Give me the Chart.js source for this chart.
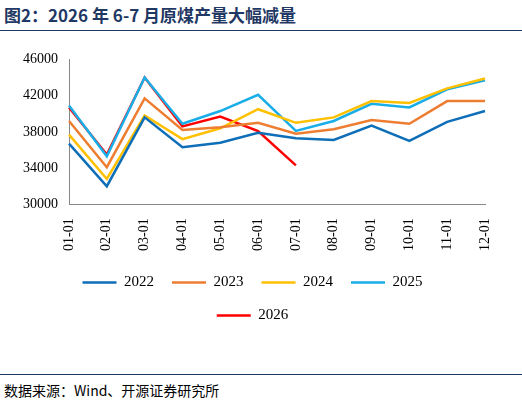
<!DOCTYPE html>
<html lang="zh">
<head>
<meta charset="UTF-8">
<title>原煤产量</title>
<style>
    body { margin: 0; width: 522px; height: 408px; background: #fff; font-family: "Noto Sans CJK SC", sans-serif; }
    .title { position: absolute; left: 4px; top: 2px; font-size: 17px; font-weight: bold; color: #1f3864; }
    .line { position: absolute; left: 0; top: 30px; width: 522px; border-top: 1px solid #1f3864; }
    .chart { position: absolute; left: 20px; top: 48px; width: 490px; height: 285px; }
    .source { position: absolute; left: 4px; top: 380px; font-size: 14px; color: #000; }
    .bline { position: absolute; left: 0; top: 374px; width: 522px; border-top: 1px solid #1f3864; }
</style>
</head>
<body>
<div class="title">图2：2026 年 6-7 月原煤产量大幅减量</div>
<div class="line"></div>
<div class="chart"><canvas id="c"></canvas></div>
<div class="bline"></div>
<div class="source">数据来源：Wind、开源证券研究所</div>
<script src="https://cdn.jsdelivr.net/npm/chart.js"></script>
<script>
    const months = ['01-01','02-01','03-01','04-01','05-01','06-01','07-01','08-01','09-01','10-01','11-01','12-01'];
    const y2022 = [36700, 32000, 39600, 36300, 36800, 37900, 37300, 37100, 38700, 37000, 39100, 40300];
    const y2023 = [39200, 34100, 41700, 38200, 38500, 39000, 37800, 38300, 39300, 38900, 41400, 41400];
    const y2024 = [37700, 32800, 39800, 37200, 38400, 40500, 39000, 39600, 41400, 41200, 42800, 43900];
    const y2025 = [40900, 35300, 44000, 38900, 40300, 42100, 38100, 39200, 41100, 40700, 42700, 43700];
    const y2026 = [40700, 35500, 44000, 38600, 39700, 38100, 34300];

    function ds(label, data, color) {
        return { label: label, data: data, borderColor: color, backgroundColor: color, borderWidth: 2.5, pointRadius: 0, tension: 0, fill: false };
    }

    new Chart(document.getElementById('c'), {
        type: 'line',
        data: {
            labels: months,
            datasets: [
                ds('2022', y2022, '#0e6fb8'),
                ds('2023', y2023, '#ed7d31'),
                ds('2024', y2024, '#ffc000'),
                ds('2025', y2025, '#1aaee8'),
                ds('2026', y2026, '#ff0000')
            ]
        },
        options: {
            responsive: true,
            maintainAspectRatio: false,
            animation: false,
            layout: { padding: { right: 25, top: 8 } },
            plugins: {
                legend: {
                    position: 'bottom',
                    labels: {
                        boxWidth: 34, boxHeight: 0, padding: 18,
                        font: { family: 'Liberation Serif', size: 15 },
                        color: '#000'
                    }
                }
            },
            scales: {
                x: {
                    grid: { display: false, tickColor: '#888' },
                    border: { color: '#888' },
                    ticks: { maxRotation: 90, minRotation: 90, padding: 6, color: '#000', font: { family: 'Liberation Serif', size: 14 } }
                },
                y: {
                    min: 30000, max: 46000,
                    grid: { display: false, tickColor: '#888' },
                    border: { color: '#888' },
                    ticks: { stepSize: 2000, color: '#000', font: { family: 'Liberation Serif', size: 14 }, callback: v => String(v) }
                }
            }
        }
    });
</script>
</body>
</html>
